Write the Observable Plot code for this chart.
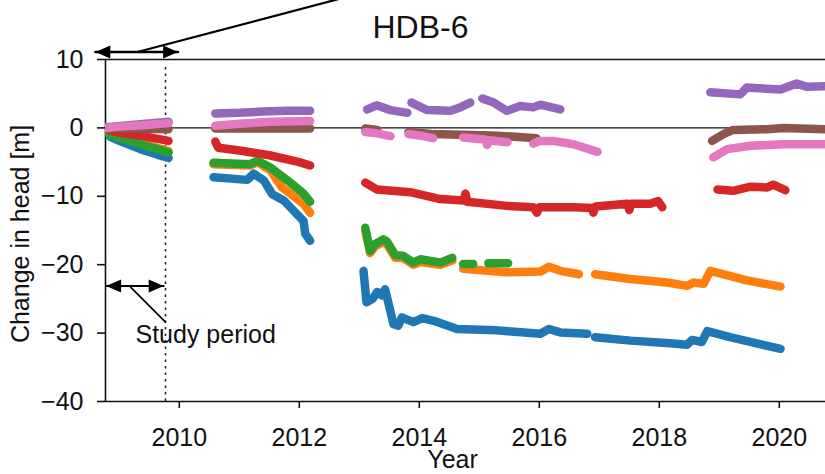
<!DOCTYPE html>
<html>
<head>
<meta charset="utf-8">
<script src="https://cdn.jsdelivr.net/npm/d3@7"></script>
<script src="https://cdn.jsdelivr.net/npm/@observablehq/plot@0.6"></script>
<style>
  html, body { margin: 0; padding: 0; background: #fff; }
  #chart { width: 825px; height: 474px; overflow: hidden; }
</style>
</head>
<body>
<div id="chart"></div>
<script>
// Change in hydraulic head per monitoring series, [year, metres]; null marks a gap in the record
const seriesC0 = [
  [2008.79,-0.4],[2008.85,-1.3],[2009.0,-1.9],[2009.35,-3.1],[2009.63,-3.9],[2009.82,-4.4], null,
  [2010.57,-7.2],[2011.13,-7.6],[2011.24,-6.7],[2011.41,-7.7],[2011.55,-9.7],[2011.74,-10.6],[2011.96,-12.6],[2012.07,-13.6],[2012.1,-15.5],[2012.18,-16.5], null,
  [2013.07,-20.9],[2013.12,-25.5],[2013.22,-25.0],[2013.3,-24.0],[2013.38,-24.5],[2013.43,-23.6],[2013.57,-28.7],[2013.65,-28.9],[2013.71,-27.7],[2013.9,-28.4],[2014.05,-27.8],[2014.24,-28.2],[2014.63,-29.4],[2015.3,-29.6],[2016.02,-30.1],[2016.16,-29.4],[2016.35,-29.9],[2016.8,-30.1], null,
  [2016.93,-30.6],[2017.52,-31.1],[2018.18,-31.5],[2018.46,-31.7],[2018.55,-31.0],[2018.71,-31.3],[2018.8,-29.7],[2019.18,-30.6],[2020.02,-32.3]
];
const seriesC1 = [
  [2008.79,-0.3],[2008.85,-0.9],[2009.02,-1.4],[2009.35,-2.2],[2009.63,-2.9],[2009.82,-3.4], null,
  [2010.57,-5.3],[2011.18,-5.5],[2011.3,-5.0],[2011.52,-6.2],[2011.71,-8.7],[2011.85,-9.6],[2012.07,-11.1],[2012.18,-12.4], null,
  [2013.1,-15.0],[2013.18,-18.3],[2013.26,-17.3],[2013.4,-16.7],[2013.46,-17.0],[2013.6,-19.0],[2013.73,-19.0],[2013.9,-20.0],[2014.02,-19.6],[2014.35,-20.0],[2014.55,-19.4], null,
  [2014.73,-20.6],[2015.45,-21.1],[2016.02,-21.0],[2016.16,-20.3],[2016.35,-20.9],[2016.66,-21.4], null,
  [2016.93,-21.4],[2017.52,-22.1],[2018.13,-22.6],[2018.46,-23.1],[2018.57,-22.6],[2018.74,-22.8],[2018.85,-20.9],[2019.46,-22.3],[2020.02,-23.2]
];
const seriesC2 = [
  [2008.79,-0.3],[2008.85,-1.0],[2009.02,-1.5],[2009.35,-2.4],[2009.63,-3.1],[2009.82,-3.6], null,
  [2010.57,-5.1],[2011.18,-5.3],[2011.3,-4.8],[2011.52,-5.8],[2011.85,-8.0],[2012.07,-9.6],[2012.18,-10.8], null,
  [2013.1,-14.6],[2013.18,-18.0],[2013.26,-17.0],[2013.4,-16.3],[2013.46,-16.6],[2013.6,-18.6],[2013.73,-18.7],[2013.9,-19.7],[2014.02,-19.2],[2014.35,-19.7],[2014.55,-19.0], null,
  [2014.73,-19.9],[2014.9,-19.9], null,
  [2015.15,-19.8],[2015.48,-19.8]
];
const seriesC3 = [
  [2008.79,-0.1],[2008.9,-0.5],[2009.02,-0.7],[2009.4,-1.2],[2009.82,-1.9], null,
  [2010.6,-2.0],[2010.65,-2.9],[2011.0,-3.3],[2011.5,-4.0],[2012.0,-5.0],[2012.18,-5.5], null,
  [2013.1,-8.0],[2013.29,-9.0],[2013.85,-9.4],[2014.35,-10.4],[2014.74,-10.6],[2014.77,-9.6],[2014.8,-10.8],[2015.46,-11.4],[2015.9,-11.6],[2015.96,-12.4],[2016.0,-11.6],[2016.57,-11.6],[2016.88,-11.7],[2016.9,-12.4],[2016.94,-11.5],[2017.47,-11.1],[2017.5,-12.0],[2017.53,-11.1],[2017.85,-11.1],[2017.98,-10.7],[2018.05,-11.6], null,
  [2018.97,-9.0],[2019.23,-9.2],[2019.52,-8.6],[2019.8,-8.7],[2019.9,-8.3],[2020.1,-9.1]
];
const seriesC4 = [
  [2008.79,0.1],[2009.3,0.5],[2009.82,0.9], null,
  [2010.6,2.1],[2011.0,2.2],[2011.4,2.4],[2011.8,2.5],[2012.18,2.5], null,
  [2013.13,2.7],[2013.29,3.3],[2013.52,2.6],[2013.8,2.2], null,
  [2013.87,3.7],[2014.13,2.6],[2014.52,2.5],[2014.68,3.0],[2014.85,3.7], null,
  [2015.05,4.3],[2015.24,3.7],[2015.46,2.5],[2015.68,3.2],[2015.9,3.0],[2016.02,3.4],[2016.35,2.7], null,
  [2018.85,5.2],[2019.35,4.9],[2019.46,5.9],[2020.02,5.6],[2020.29,6.5],[2020.46,6.0],[2020.8,6.1]
];
const seriesC5 = [
  [2008.79,0.0],[2009.82,-0.2], null,
  [2010.6,-0.1],[2011.5,-0.1],[2012.18,-0.1], null,
  [2013.1,-0.1],[2013.3,-0.3], null,
  [2013.82,-0.6],[2014.2,-0.9],[2014.7,-1.0],[2015.2,-1.1],[2015.6,-1.3],[2015.95,-1.5], null,
  [2018.88,-1.9],[2019.07,-0.9],[2019.23,-0.3],[2019.8,-0.2],[2020.07,0.0],[2020.8,-0.2]
];
const seriesC6 = [
  [2008.79,0.0],[2009.0,0.2],[2009.4,0.4],[2009.82,0.7], null,
  [2010.6,0.3],[2011.0,0.6],[2011.5,0.9],[2012.18,1.0], null,
  [2013.1,-0.6],[2013.3,-0.8],[2013.52,-1.2], null,
  [2013.82,-0.9],[2014.0,-1.1],[2014.23,-1.5], null,
  [2014.73,-1.4],[2014.95,-1.6],[2015.1,-1.7],[2015.13,-2.5],[2015.16,-1.8],[2015.47,-2.1], null,
  [2015.9,-2.3],[2016.0,-1.9],[2016.23,-1.9],[2016.57,-2.4],[2016.97,-3.5], null,
  [2018.9,-4.3],[2019.13,-3.1],[2019.52,-2.6],[2020.07,-2.4],[2020.8,-2.4]
];

const seriesNames = ["C0", "C1", "C2", "C3", "C4", "C5", "C6"];
const seriesColors = ["#1f77b4", "#ff7f0e", "#2ca02c", "#d62728", "#9467bd", "#8c564b", "#e377c2"];
const seriesData = [seriesC0, seriesC1, seriesC2, seriesC3, seriesC4, seriesC5, seriesC6];

const xTicks = [2010, 2012, 2014, 2016, 2018, 2020];
const yTicks = [10, 0, -10, -20, -30, -40];
const xDomain = [2008.77, 2020.77];
const yDomain = [-40, 10];

const studyPeriodEnd = 2009.77;
const titleText = "HDB-6";
const xLabel = "Year";
const yLabel = "Change in head [m]";
const studyLabel = "Study period";

// Annotation geometry in data units: the double arrows and their leader lines
const topArrow = {from: 2008.6, to: 2009.98, level: 11.1};
const topLeader = [[2009.3, 11.1], [2013.16, 20.0]];
const studyArrow = {from: 2008.78, to: 2009.74, level: -23.1};
const studyLeader = [[2009.18, -23.2], [2009.77, -28.4]];
const studyTextAt = [2009.27, -31.5];

// Long table: one row per reading, gaps kept as null rows so lines break there
const rows = [];
seriesData.forEach((pts, i) => {
  for (const p of pts) {
    rows.push(p ? {series: seriesNames[i], year: p[0], head: p[1]} : {series: seriesNames[i], year: null, head: null});
  }
});

// Filled arrowhead, tip at the origin pointing right
const arrowHead = {
  draw(context) {
    context.moveTo(0, 0);
    context.lineTo(-15, -6.5);
    context.lineTo(-15, 6.5);
    context.closePath();
  }
};
const heads = [
  {x: topArrow.from, y: topArrow.level, rot: 180},
  {x: topArrow.to, y: topArrow.level, rot: 0},
  {x: studyArrow.from, y: studyArrow.level, rot: 180},
  {x: studyArrow.to, y: studyArrow.level, rot: 0}
];

const ink = "#111";
const fontFamily = "'Liberation Sans', Arial, Helvetica, sans-serif";

const chart = Plot.plot({
  width: 825,
  height: 474,
  marginTop: 59,
  marginBottom: 73,
  marginLeft: 105,
  marginRight: 0,
  style: {fontFamily, fontSize: "25px", color: ink, background: "#fff", overflow: "visible"},
  x: {domain: xDomain},
  y: {domain: yDomain},
  color: {domain: seriesNames, range: seriesColors},
  marks: [
    // spines
    Plot.ruleY([yDomain[0], yDomain[1]], {stroke: ink, strokeWidth: 1.6}),
    Plot.ruleX([xDomain[0]], {y1: yDomain[0], y2: yDomain[1], stroke: ink, strokeWidth: 1.6}),
    Plot.ruleY([0], {stroke: ink, strokeWidth: 1.3}),
    Plot.ruleX([studyPeriodEnd], {y1: yDomain[0], y2: yDomain[1] - 0.8, stroke: "#222", strokeWidth: 1.6, strokeDasharray: "2.5,4"}),
    Plot.axisX({ticks: xTicks, tickFormat: d => String(d), tickSize: 7, tickPadding: 20, label: null, fontSize: 25, stroke: ink, strokeWidth: 1.6}),
    Plot.axisY({ticks: yTicks, tickSize: 8, tickPadding: 14, label: null, fontSize: 25, stroke: ink, strokeWidth: 1.6}),
    Plot.line(rows, {x: "year", y: "head", z: "series", stroke: "series", strokeWidth: 8.5, strokeLinecap: "round", strokeLinejoin: "round", clip: true}),
    // annotations
    Plot.line([[topArrow.from, topArrow.level], [topArrow.to, topArrow.level]], {x: d => d[0], y: d => d[1], stroke: "#000", strokeWidth: 2.4}),
    Plot.line(topLeader, {x: d => d[0], y: d => d[1], stroke: "#000", strokeWidth: 2.2}),
    Plot.line([[studyArrow.from, studyArrow.level], [studyArrow.to, studyArrow.level]], {x: d => d[0], y: d => d[1], stroke: "#000", strokeWidth: 2}),
    Plot.line(studyLeader, {x: d => d[0], y: d => d[1], stroke: "#000", strokeWidth: 1.6}),
    Plot.dot(heads, {x: "x", y: "y", rotate: "rot", symbol: arrowHead, r: 5, fill: "#000", stroke: null}),
    Plot.text([studyLabel], {x: studyTextAt[0], y: studyTextAt[1], textAnchor: "start", lineAnchor: "bottom", fontSize: 25, fill: ink}),
    Plot.text([titleText], {frameAnchor: "top", textAnchor: "middle", dx: -45, dy: -22, lineAnchor: "bottom", fontSize: 32, fill: ink}),
    Plot.text([xLabel], {frameAnchor: "bottom", textAnchor: "middle", dx: -13, dy: 66, lineAnchor: "bottom", fontSize: 25, fill: ink}),
    Plot.text([yLabel], {frameAnchor: "left", textAnchor: "middle", dx: -77, dy: 3.5, rotate: -90, lineAnchor: "bottom", fontSize: 25, fill: ink})
  ]
});
document.getElementById("chart").append(chart);
</script>
</body>
</html>
